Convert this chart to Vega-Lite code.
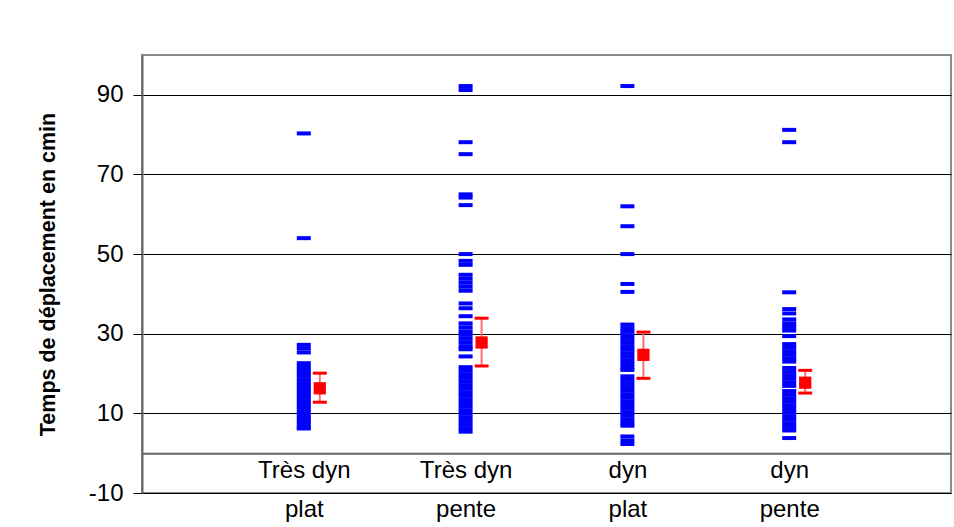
{
  "$schema": "https://vega.github.io/schema/vega-lite/v6.json",
  "width": 809,
  "height": 438,
  "autosize": {"type": "none"},
  "padding": {"left": 142, "top": 55, "right": 3, "bottom": 34},
  "background": "white",
  "config": {
    "font": "Liberation Sans",
    "view": {"stroke": "#8c8c8c", "strokeWidth": 2}
  },
  "datasets": {
    "obs": [
      {"cat": "Très dyn plat", "v": 80.3}, {"cat": "Très dyn plat", "v": 54}, {"cat": "Très dyn plat", "v": 27.2}, {"cat": "Très dyn plat", "v": 26.3}, {"cat": "Très dyn plat", "v": 25.3},
      {"cat": "Très dyn plat", "v": 22.6}, {"cat": "Très dyn plat", "v": 21.7}, {"cat": "Très dyn plat", "v": 21}, {"cat": "Très dyn plat", "v": 20.2}, {"cat": "Très dyn plat", "v": 19.5},
      {"cat": "Très dyn plat", "v": 18.6}, {"cat": "Très dyn plat", "v": 17.8}, {"cat": "Très dyn plat", "v": 17}, {"cat": "Très dyn plat", "v": 16.2}, {"cat": "Très dyn plat", "v": 15.5},
      {"cat": "Très dyn plat", "v": 14.7}, {"cat": "Très dyn plat", "v": 14}, {"cat": "Très dyn plat", "v": 13.2}, {"cat": "Très dyn plat", "v": 12.5}, {"cat": "Très dyn plat", "v": 11.7},
      {"cat": "Très dyn plat", "v": 11}, {"cat": "Très dyn plat", "v": 10.2}, {"cat": "Très dyn plat", "v": 9.5}, {"cat": "Très dyn plat", "v": 8.7}, {"cat": "Très dyn plat", "v": 8},
      {"cat": "Très dyn plat", "v": 7.3}, {"cat": "Très dyn plat", "v": 6.5}, {"cat": "Très dyn plat", "v": 6.2},

      {"cat": "Très dyn pente", "v": 92.2}, {"cat": "Très dyn pente", "v": 91.2}, {"cat": "Très dyn pente", "v": 78.1}, {"cat": "Très dyn pente", "v": 75.1}, {"cat": "Très dyn pente", "v": 65},
      {"cat": "Très dyn pente", "v": 64.2}, {"cat": "Très dyn pente", "v": 62.3}, {"cat": "Très dyn pente", "v": 50}, {"cat": "Très dyn pente", "v": 48.3}, {"cat": "Très dyn pente", "v": 47.3},
      {"cat": "Très dyn pente", "v": 44.8}, {"cat": "Très dyn pente", "v": 43.8}, {"cat": "Très dyn pente", "v": 42.8}, {"cat": "Très dyn pente", "v": 41.8}, {"cat": "Très dyn pente", "v": 40.8},
      {"cat": "Très dyn pente", "v": 37.6}, {"cat": "Très dyn pente", "v": 36.4}, {"cat": "Très dyn pente", "v": 34.4}, {"cat": "Très dyn pente", "v": 32.6}, {"cat": "Très dyn pente", "v": 31.6},
      {"cat": "Très dyn pente", "v": 30.6}, {"cat": "Très dyn pente", "v": 29.7}, {"cat": "Très dyn pente", "v": 28.7}, {"cat": "Très dyn pente", "v": 27.7}, {"cat": "Très dyn pente", "v": 26.7},
      {"cat": "Très dyn pente", "v": 26.1}, {"cat": "Très dyn pente", "v": 24.3}, {"cat": "Très dyn pente", "v": 21.6}, {"cat": "Très dyn pente", "v": 20.7}, {"cat": "Très dyn pente", "v": 19.8},
      {"cat": "Très dyn pente", "v": 18.9}, {"cat": "Très dyn pente", "v": 18}, {"cat": "Très dyn pente", "v": 17.1}, {"cat": "Très dyn pente", "v": 16.2}, {"cat": "Très dyn pente", "v": 15.3},
      {"cat": "Très dyn pente", "v": 14.4}, {"cat": "Très dyn pente", "v": 13.5}, {"cat": "Très dyn pente", "v": 12.6}, {"cat": "Très dyn pente", "v": 11.7}, {"cat": "Très dyn pente", "v": 10.8},
      {"cat": "Très dyn pente", "v": 9.9}, {"cat": "Très dyn pente", "v": 9}, {"cat": "Très dyn pente", "v": 8.1}, {"cat": "Très dyn pente", "v": 7.2}, {"cat": "Très dyn pente", "v": 6.3},
      {"cat": "Très dyn pente", "v": 5.4},

      {"cat": "dyn plat", "v": 92.2}, {"cat": "dyn plat", "v": 62}, {"cat": "dyn plat", "v": 57}, {"cat": "dyn plat", "v": 50}, {"cat": "dyn plat", "v": 42.5},
      {"cat": "dyn plat", "v": 40.5}, {"cat": "dyn plat", "v": 32.3}, {"cat": "dyn plat", "v": 31.4}, {"cat": "dyn plat", "v": 30.5}, {"cat": "dyn plat", "v": 29.6},
      {"cat": "dyn plat", "v": 28.7}, {"cat": "dyn plat", "v": 27.8}, {"cat": "dyn plat", "v": 26.9}, {"cat": "dyn plat", "v": 26}, {"cat": "dyn plat", "v": 25.1},
      {"cat": "dyn plat", "v": 24.2}, {"cat": "dyn plat", "v": 23.3}, {"cat": "dyn plat", "v": 22.4}, {"cat": "dyn plat", "v": 21.5}, {"cat": "dyn plat", "v": 20.9},
      {"cat": "dyn plat", "v": 19.3}, {"cat": "dyn plat", "v": 18.4}, {"cat": "dyn plat", "v": 17.5}, {"cat": "dyn plat", "v": 16.6}, {"cat": "dyn plat", "v": 15.7},
      {"cat": "dyn plat", "v": 14.8}, {"cat": "dyn plat", "v": 13.9}, {"cat": "dyn plat", "v": 13}, {"cat": "dyn plat", "v": 12.1}, {"cat": "dyn plat", "v": 11.2},
      {"cat": "dyn plat", "v": 10.3}, {"cat": "dyn plat", "v": 9.4}, {"cat": "dyn plat", "v": 8.5}, {"cat": "dyn plat", "v": 7.6}, {"cat": "dyn plat", "v": 6.9},
      {"cat": "dyn plat", "v": 4.2}, {"cat": "dyn plat", "v": 3.2}, {"cat": "dyn plat", "v": 2.3},

      {"cat": "dyn pente", "v": 81.2}, {"cat": "dyn pente", "v": 78.1}, {"cat": "dyn pente", "v": 40.4}, {"cat": "dyn pente", "v": 36.2}, {"cat": "dyn pente", "v": 35.1},
      {"cat": "dyn pente", "v": 33.6}, {"cat": "dyn pente", "v": 32.6}, {"cat": "dyn pente", "v": 31.7}, {"cat": "dyn pente", "v": 30.8}, {"cat": "dyn pente", "v": 29.4},
      {"cat": "dyn pente", "v": 27.4}, {"cat": "dyn pente", "v": 26.5}, {"cat": "dyn pente", "v": 25.6}, {"cat": "dyn pente", "v": 24.7}, {"cat": "dyn pente", "v": 23.8},
      {"cat": "dyn pente", "v": 23}, {"cat": "dyn pente", "v": 21.4}, {"cat": "dyn pente", "v": 20.5}, {"cat": "dyn pente", "v": 19.6}, {"cat": "dyn pente", "v": 18.7},
      {"cat": "dyn pente", "v": 17.8}, {"cat": "dyn pente", "v": 16.9}, {"cat": "dyn pente", "v": 15.6}, {"cat": "dyn pente", "v": 14.7}, {"cat": "dyn pente", "v": 13.8},
      {"cat": "dyn pente", "v": 12.9}, {"cat": "dyn pente", "v": 12}, {"cat": "dyn pente", "v": 11.1}, {"cat": "dyn pente", "v": 10.2}, {"cat": "dyn pente", "v": 9.3},
      {"cat": "dyn pente", "v": 8.4}, {"cat": "dyn pente", "v": 7.5}, {"cat": "dyn pente", "v": 6.6}, {"cat": "dyn pente", "v": 5.7}, {"cat": "dyn pente", "v": 3.8}
    ],
    "means": [
      {"cat": "Très dyn plat", "mean": 16.3, "lo": 12.8, "hi": 20.1},
      {"cat": "Très dyn pente", "mean": 27.8, "lo": 21.9, "hi": 33.9},
      {"cat": "dyn plat", "mean": 24.7, "lo": 18.8, "hi": 30.4},
      {"cat": "dyn pente", "mean": 17.7, "lo": 15.1, "hi": 20.8}
    ]
  },
  "encoding": {
    "x": {
      "field": "cat",
      "type": "nominal",
      "scale": {"type": "point", "padding": 1, "domain": ["Très dyn plat", "Très dyn pente", "dyn plat", "dyn pente"]},
      "axis": {
        "title": null,
        "orient": "bottom",
        "offset": -39.82,
        "ticks": false,
        "grid": false,
        "domainColor": "#666666",
        "domainWidth": 2,
        "labelAngle": 0,
        "labelFontSize": 24,
        "labelColor": "black",
        "labelPadding": 5,
        "labelLineHeight": 39,
        "labelBaseline": "top",
        "labelExpr": "[slice(datum.label, 0, lastindexof(datum.label, ' ')), slice(datum.label, lastindexof(datum.label, ' ') + 1)]"
      }
    }
  },
  "layer": [
    {
      "data": {"name": "obs"},
      "mark": {"type": "tick", "orient": "horizontal", "size": 14, "thickness": 4, "color": "#0000ff", "opacity": 1},
      "encoding": {
        "y": {
          "field": "v",
          "type": "quantitative",
          "scale": {"domain": [-10, 100], "nice": false, "zero": false},
          "axis": {
            "title": "Temps de déplacement en cmin",
            "titleFontSize": 21.5,
            "titleFontWeight": "bold",
            "titleColor": "black",
            "titleBaseline": "alphabetic",
            "titleX": -88,
            "values": [-10, 10, 30, 50, 70, 90],
            "labelExpr": "'' + datum.value",
            "labelFontSize": 24,
            "labelColor": "black",
            "labelPadding": 10,
            "tickSize": 9,
            "tickColor": "black",
            "tickWidth": 1,
            "domainColor": "#666666",
            "domainWidth": 2,
            "grid": true,
            "gridColor": "black",
            "gridWidth": 1,
            "gridOpacity": 1
          }
        }
      }
    },
    {
      "data": {"name": "means"},
      "mark": {"type": "rule", "color": "#ff7070", "strokeWidth": 2, "xOffset": 16},
      "encoding": {"y": {"field": "lo", "type": "quantitative"}, "y2": {"field": "hi"}}
    },
    {
      "data": {"name": "means"},
      "mark": {"type": "tick", "orient": "horizontal", "size": 14, "thickness": 3, "color": "#ff0000", "opacity": 1, "xOffset": 16},
      "encoding": {"y": {"field": "lo", "type": "quantitative"}}
    },
    {
      "data": {"name": "means"},
      "mark": {"type": "tick", "orient": "horizontal", "size": 14, "thickness": 3, "color": "#ff0000", "opacity": 1, "xOffset": 16},
      "encoding": {"y": {"field": "hi", "type": "quantitative"}}
    },
    {
      "data": {"name": "means"},
      "mark": {"type": "point", "shape": "square", "filled": true, "size": 150, "color": "#ff0000", "opacity": 1, "xOffset": 16},
      "encoding": {"y": {"field": "mean", "type": "quantitative"}}
    }
  ]
}
